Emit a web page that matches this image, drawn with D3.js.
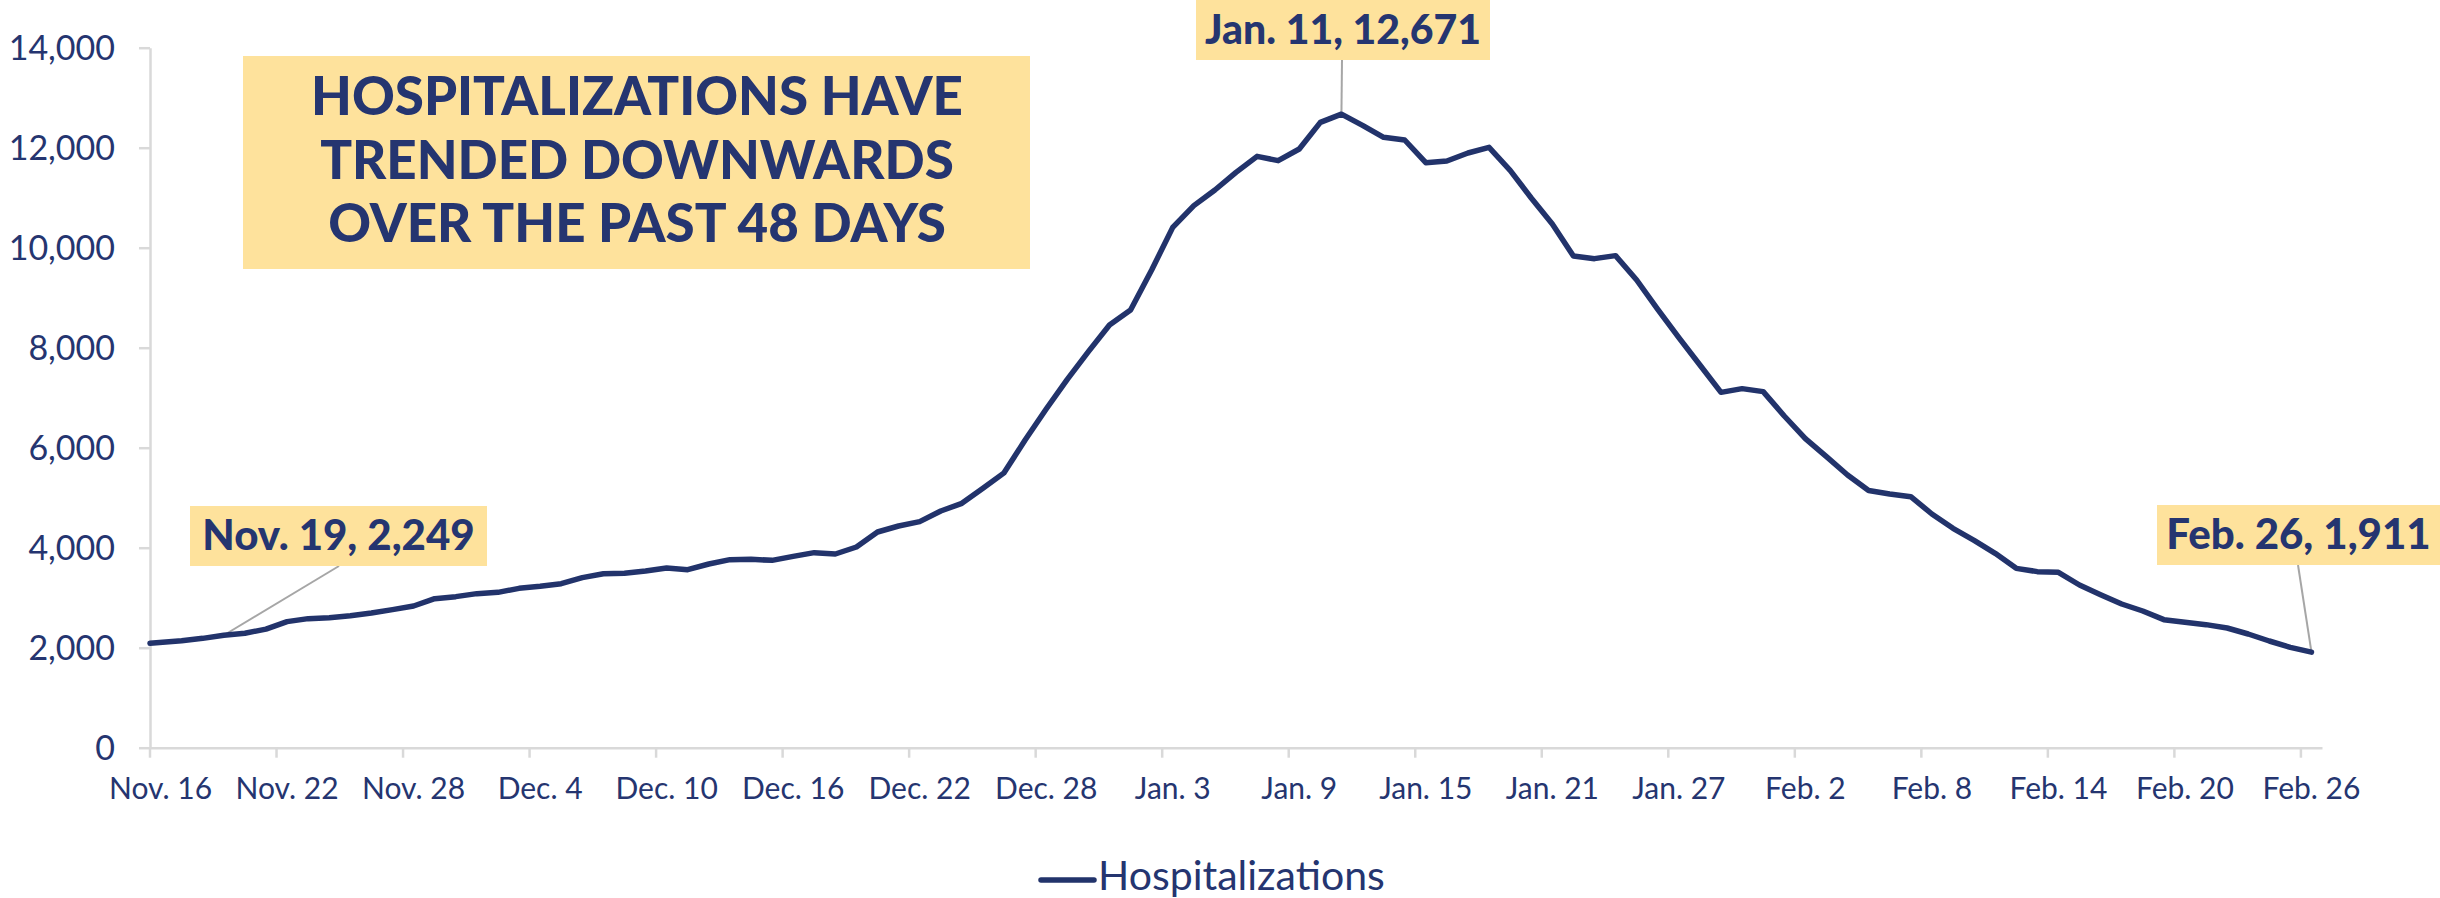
<!DOCTYPE html>
<html>
<head>
<meta charset="utf-8">
<script src="https://cdn.jsdelivr.net/npm/d3@7"></script>
<style>
  body { margin: 0; background: #fff; }
  svg { display: block; font-family: Lato, "Open Sans", sans-serif; }
</style>
</head>
<body>
<svg id="chart"></svg>
<script>
// daily hospitalizations, Nov. 16 -> Feb. 26
let startDay = new Date(2021, 10, 16);
let endDay = new Date(2022, 1, 27);
let days = d3.timeDay.range(startDay, endDay);

let hospitalizations = [
  2090, 2139, 2187, 2249, 2290, 2371, 2521, 2581, 2601, 2641,
  2694, 2761, 2834, 2981, 3021, 3081, 3107, 3187, 3227, 3281,
  3401, 3480, 3487, 3534, 3594, 3561, 3674, 3761, 3767, 3747,
  3827, 3901, 3874, 4014, 4314, 4434, 4521, 4734, 4887, 5187,
  5497, 6154, 6774, 7367, 7921, 8454, 8754, 9554, 10407, 10841,
  11154, 11507, 11827, 11741, 11974, 12507, 12671, 12447, 12207, 12154,
  11700, 11734, 11894, 12007, 11547, 10994, 10474, 9834, 9781, 9841,
  9354, 8767, 8200, 7654, 7107, 7181, 7121, 6634, 6181, 5821,
  5454, 5144, 5074, 5021, 4674, 4387, 4147, 3887, 3587, 3521,
  3507, 3254, 3061, 2874, 2734, 2561, 2507, 2461, 2394, 2274,
  2134, 2007, 1911
];

let tickLabels = ['Nov. 16', 'Nov. 22', 'Nov. 28', 'Dec. 4', 'Dec. 10', 'Dec. 16',
  'Dec. 22', 'Dec. 28', 'Jan. 3', 'Jan. 9', 'Jan. 15', 'Jan. 21', 'Jan. 27',
  'Feb. 2', 'Feb. 8', 'Feb. 14', 'Feb. 20', 'Feb. 26'];
let yTicks = [0, 2000, 4000, 6000, 8000, 10000, 12000, 14000];

let titleLines = ['HOSPITALIZATIONS HAVE', 'TRENDED DOWNWARDS', 'OVER THE PAST 48 DAYS'];
let calloutDays = [3, 56, 102];   // index into days
let calloutNames = ['Nov. 19', 'Jan. 11', 'Feb. 26'];
let seriesName = 'Hospitalizations';

let w = 2440;
let h = 898;
let navy = '#22336b';
let textCol = '#253570';
let axisCol = '#d9d9d9';
let boxCol = '#fee29c';

let svg = d3.select('#chart').attr('width', w).attr('height', h);

let xSc = d3.scaleBand().domain(days).range([150, 2322]).padding(0);
let ySc = d3.scaleLinear().domain([0, 14000]).range([747.7, 47.7]);
let bw = xSc.bandwidth();
let xc = d => xSc(d) + bw / 2;

// x axis
let tickDays = days.filter((d, i) => i % 6 === 0);
let xAxis = d3.axisBottom(xSc)
  .tickValues(tickDays)
  .tickFormat((d, i) => tickLabels[i])
  .tickSize(10)
  .tickSizeOuter(0)
  .tickPadding(20);
let gx = svg.append('g')
  .attr('transform', 'translate(0,' + ySc(0) + ')')
  .call(xAxis);
gx.selectAll('.tick line').attr('x1', -bw / 2).attr('x2', -bw / 2);

// y axis
let yAxis = d3.axisLeft(ySc)
  .tickValues(yTicks)
  .tickFormat(d3.format(','))
  .tickSize(11)
  .tickSizeOuter(0)
  .tickPadding(24);
let gy = svg.append('g')
  .attr('transform', 'translate(150,0)')
  .call(yAxis);

[gx, gy].forEach(g => {
  g.select('.domain').attr('stroke', axisCol).attr('stroke-width', 2.5);
  g.selectAll('.tick line').attr('stroke', axisCol).attr('stroke-width', 2.5);
  g.selectAll('.tick text')
    .attr('fill', textCol)
    .style('font-family', 'Lato, sans-serif');
});
gx.selectAll('.tick text').style('font-size', '30px');
gy.selectAll('.tick text').style('font-size', '34px').attr('dy', '0.36em');

// title box
svg.append('rect')
  .attr('x', 243).attr('y', 56)
  .attr('width', 787).attr('height', 213)
  .attr('fill', boxCol);
let title = svg.append('text')
  .attr('text-anchor', 'middle')
  .attr('fill', textCol)
  .style('font-weight', 900)
  .style('font-size', '50px');
titleLines.forEach((t, i) => {
  title.append('tspan').attr('x', 637).attr('y', 115 + i * 63.5).text(t);
});
// squeeze to the width of the original lettering
let t0 = title.select('tspan').node().getComputedTextLength();
title.style('font-size', (50 * 652 / t0) + 'px');

// leader lines
let callouts = [
  { i: calloutDays[0], bx: 190, by: 506, bw: 297, lx: 339 },
  { i: calloutDays[1], bx: 1196, by: 0, bw: 294, lx: 1342 },
  { i: calloutDays[2], bx: 2157, by: 505, bw: 283, lx: 2298 }
];
callouts.forEach((c, k) => {
  let d = days[c.i];
  let v = hospitalizations[c.i];
  svg.append('line')
    .attr('x1', c.lx).attr('y1', c.by + 60)
    .attr('x2', xc(d)).attr('y2', ySc(v))
    .attr('stroke', '#a6a6a6').attr('stroke-width', 2);
});

// the line (first point sits on the value axis, as in the original)
let line = d3.line()
  .x((d, i) => i === 0 ? xSc.range()[0] : xc(d[0]))
  .y(d => ySc(d[1]));
svg.append('path')
  .datum(days.map((d, i) => [d, hospitalizations[i]]))
  .attr('d', line)
  .attr('fill', 'none')
  .attr('stroke', navy)
  .attr('stroke-width', 5.5)
  .attr('stroke-linejoin', 'round')
  .attr('stroke-linecap', 'round');

// callout boxes
callouts.forEach((c, k) => {
  let v = hospitalizations[c.i];
  svg.append('rect')
    .attr('x', c.bx).attr('y', c.by)
    .attr('width', c.bw).attr('height', 60)
    .attr('fill', boxCol);
  let txt = svg.append('text')
    .attr('x', c.bx + c.bw / 2)
    .attr('y', c.by + 44)
    .attr('text-anchor', 'middle')
    .attr('fill', textCol)
    .style('font-weight', 900)
    .style('font-size', '40px')
    .text(calloutNames[k] + ', ' + d3.format(',')(v));
  let tw = txt.node().getComputedTextLength();
  let fs = Math.min(42, 40 * (c.bw - 18) / tw);
  txt.style('font-size', fs + 'px');
});

// legend
svg.append('line')
  .attr('x1', 1041).attr('x2', 1094)
  .attr('y1', 880).attr('y2', 880)
  .attr('stroke', navy).attr('stroke-width', 5.5)
  .attr('stroke-linecap', 'round');
svg.append('text')
  .attr('x', 1098).attr('y', 890)
  .attr('fill', textCol)
  .style('font-size', '41px')
  .text(seriesName);
</script>
</body>
</html>
